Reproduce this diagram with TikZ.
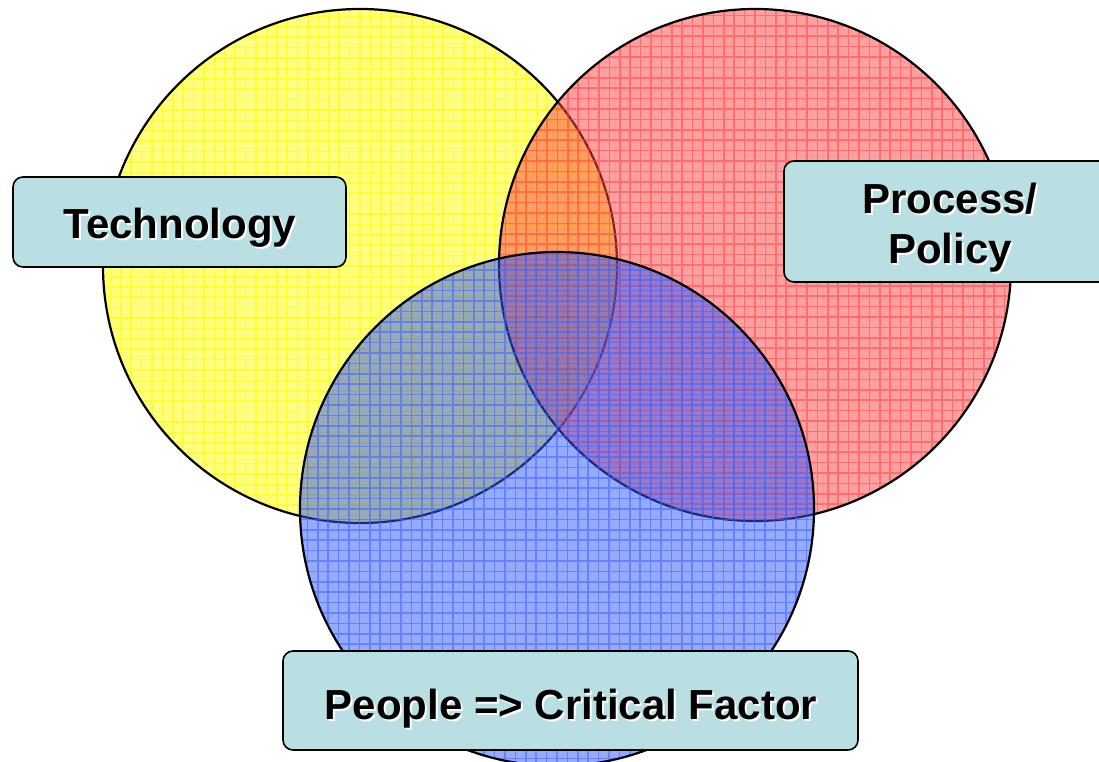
\documentclass[tikz,border=0pt]{standalone}
\usepackage{fontspec}
\setmainfont{Liberation Sans}
\definecolor{techfill}{RGB}{255,255,0}
\definecolor{techgrid}{RGB}{255,250,0}
\definecolor{procfill}{RGB}{255,64,64}
\definecolor{procgrid}{RGB}{255,70,70}
\definecolor{peoplefill}{RGB}{45,85,255}
\definecolor{peoplegrid}{RGB}{60,100,255}
\definecolor{boxfill}{RGB}{185,223,226}
\begin{document}
\begin{tikzpicture}[x=1pt,y=-1pt,
  venn/.style n args={3}{circle, draw=black, line width=2.2pt, inner sep=0pt,
    minimum size=#1, fill=#2, fill opacity=0.5,
    path picture={\draw[#3, line width=1.6pt, draw opacity=0.55]
      (path picture bounding box.south west) grid[step=10.4pt]
      (path picture bounding box.north east);}},
  labelbox/.style={draw=black, line width=1.6pt, fill=boxfill,
    rounded corners=10pt, inner sep=0pt},
  lbl/.style={font=\bfseries\fontsize{42}{50}\selectfont, anchor=base, inner sep=0pt},
  lblshadow/.style={lbl, text=white},
]
\useasboundingbox (0,0) rectangle (1099,762);

% the three overlapping circles
\node[venn={514pt}{techfill}{techgrid}] (tech) at (360,266) {};
\node[venn={512pt}{procfill}{procgrid}] (proc) at (755,265) {};
\node[venn={514pt}{peoplefill}{peoplegrid}] (people) at (557,509) {};

% label boxes
\node[labelbox, minimum width=333pt, minimum height=90pt] (techbox) at (179.5,222) {};
\node[labelbox, minimum width=333pt, minimum height=121pt] (procbox) at (950.5,221.5) {};
\node[labelbox, minimum width=575pt, minimum height=99pt] (peoplebox) at (570.5,700.5) {};

% labels with a soft white drop shadow
\node[lblshadow] at (182,240) {Technology};
\node[lbl] (techtext) at (180,238) {Technology};

\node[lblshadow] at (952,215) {Process/};
\node[lbl] (proctext1) at (950,213) {Process/};
\node[lblshadow] at (952,265) {Policy};
\node[lbl] (proctext2) at (950,263) {Policy};

\node[lblshadow] at (573,721) {People => Critical Factor};
\node[lbl] (peopletext) at (571,719) {People => Critical Factor};
\end{tikzpicture}
\end{document}
